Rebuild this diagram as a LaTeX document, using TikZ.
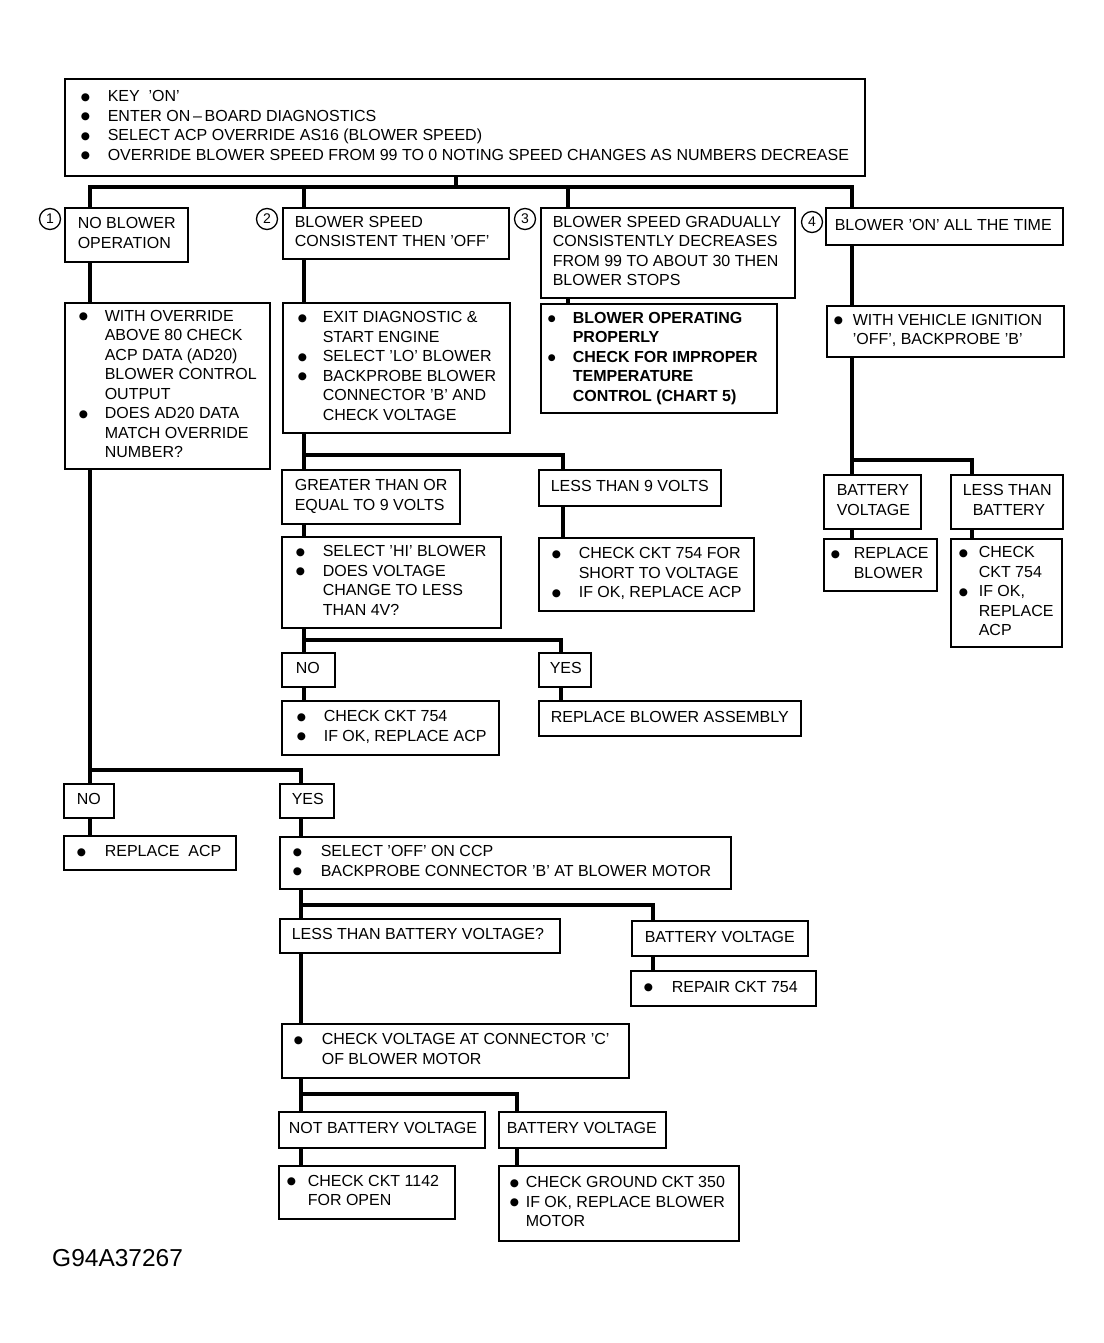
\documentclass[tikz,border=0pt]{standalone}
\usepackage{fontspec}
\setmainfont{Liberation Sans}
\newfontfamily\dejavu{DejaVu Sans}
\newlength\bw
\setlength\bw{27pt}
\newcommand\bu{\makebox[\bw][l]{\raisebox{1.5pt}{\dejavu\fontsize{10.5}{10.5}\selectfont ●}}}
\newcommand\bub{\makebox[\bw][l]{\raisebox{1.5pt}{\dejavu\fontsize{9}{9}\selectfont ●}}}
\newcommand\ii{\hspace*{\bw}}
\newcommand\bx[7][12]{\node[box,inner xsep=#1pt,minimum width=#5pt,minimum height=#6pt] (#2) at (#3,#4) {\makebox[\dimexpr#5pt-#1pt-#1pt\relax][l]{\begin{tabular}{@{}l@{}}#7\end{tabular}}};}
\tikzset{
  box/.style={draw, line width=1.6pt, anchor=north west, inner ysep=1pt,
    font=\fontsize{16}{19.5}\selectfont},
  conn/.style={line width=3.6pt, line join=miter},
  num/.style={circle, draw, line width=1.3pt, minimum size=21pt, inner sep=0pt,
    font=\fontsize{14}{14}\selectfont}
}
\begin{document}
\begin{tikzpicture}[x=1pt,y=-1pt]
\fill[white] (0,0) rectangle (1103,1343);
\useasboundingbox (0,0) rectangle (1103,1343);

% ---- boxes ----
\setlength\bw{27pt}
\bx[16]{top}{64}{78}{800}{97}{\bu KEY\ \ 'ON'\\ \bu ENTER ON\,--\,BOARD DIAGNOSTICS\\ \bu SELECT ACP OVERRIDE AS16 (BLOWER SPEED)\\ \bu OVERRIDE BLOWER SPEED FROM 99 TO 0 NOTING SPEED CHANGES AS NUMBERS DECREASE}

\bx[13]{b1}{64}{207}{123}{54}{NO BLOWER\\ OPERATION}
\bx[12]{b2}{282}{207}{226}{51}{BLOWER SPEED\\ CONSISTENT THEN 'OFF'}
\bx[12]{b3}{540}{207}{254}{90}{BLOWER SPEED GRADUALLY\\ CONSISTENTLY DECREASES\\ FROM 99 TO ABOUT 30 THEN\\ BLOWER STOPS}
\bx[9]{b4}{825}{207}{237}{37}{BLOWER 'ON' ALL THE TIME}

\node[num] (c1) at (50,219) {1};
\node[num] (c2) at (267,219) {2};
\node[num] (c3) at (525,219) {3};
\node[num] (c4) at (812,222) {4};

\setlength\bw{26pt}
\bx[14]{b1a}{64}{302}{205}{166}{\bu WITH OVERRIDE\\ \ii ABOVE 80 CHECK\\ \ii ACP DATA (AD20)\\ \ii BLOWER CONTROL\\ \ii OUTPUT\\ \bu DOES AD20 DATA\\ \ii MATCH OVERRIDE\\ \ii NUMBER?}
\setlength\bw{25pt}
\bx[15]{b2a}{282}{302}{227}{130}{\bu EXIT DIAGNOSTIC \&\\ \ii START ENGINE\\ \bu SELECT 'LO' BLOWER\\ \bu BACKPROBE BLOWER\\ \ii CONNECTOR 'B' AND\\ \ii CHECK VOLTAGE}
\setlength\bw{25pt}
\bx[7]{b3a}{540}{303}{236}{109}{\bfseries\bub BLOWER OPERATING\\ \bfseries\ii PROPERLY\\ \bfseries\bub CHECK FOR IMPROPER\\ \bfseries\ii TEMPERATURE\\ \bfseries\ii CONTROL (CHART 5)}
\setlength\bw{19pt}
\bx[7]{b4a}{826}{305}{237}{51}{\bu WITH VEHICLE IGNITION\\ \ii 'OFF', BACKPROBE 'B'}

\bx[13]{b4b}{823}{474}{97}{54}{BATTERY\\ VOLTAGE}
\bx[12]{b4c}{950}{474}{112}{54}{LESS THAN\\ \hspace*{10pt}BATTERY}
\setlength\bw{23pt}
\bx[7]{b4d}{823}{538}{113}{52}{\bu REPLACE\\ \ii BLOWER}
\setlength\bw{20pt}
\bx[8]{b4e}{950}{538}{111}{108}{\bu CHECK\\ \ii CKT 754\\ \bu IF OK,\\ \ii REPLACE\\ \ii ACP}

\bx[13]{b2b}{281}{469}{178}{54}{GREATER THAN OR\\ EQUAL TO 9 VOLTS}
\bx[12]{b2c}{538}{469}{182}{36}{LESS THAN 9 VOLTS}
\setlength\bw{27pt}
\bx[14]{b2d}{281}{536}{219}{91}{\bu SELECT 'HI' BLOWER\\ \bu DOES VOLTAGE\\ \ii CHANGE TO LESS\\ \ii THAN 4V?}
\bx[13]{b2e}{538}{537}{215}{73}{\bu CHECK CKT 754 FOR\\ \ii SHORT TO VOLTAGE\\ \bu IF OK, REPLACE ACP}
\bx[14]{b2f}{281}{652}{53}{34}{NO}
\bx[11]{b2g}{538}{652}{52}{34}{YES}
\bx[15]{b2h}{281}{700}{217}{54}{\bu CHECK CKT 754\\ \bu IF OK, REPLACE ACP}
\bx[12]{b2i}{538}{700}{262}{35}{REPLACE BLOWER ASSEMBLY}

\bx[13]{b1b}{63}{783}{50}{34}{NO}
\bx[12]{b1c}{279}{783}{54}{34}{YES}
\setlength\bw{28pt}
\bx[13]{b1d}{63}{835}{172}{34}{\bu REPLACE\ \ ACP}
\bx[13]{b1e}{279}{836}{451}{52}{\bu SELECT 'OFF' ON CCP\\ \bu BACKPROBE CONNECTOR 'B' AT BLOWER MOTOR}
\bx[12]{b1f}{279}{918}{280}{34}{LESS THAN BATTERY VOLTAGE?}
\bx[13]{b1g}{631}{920}{176}{35}{BATTERY VOLTAGE}
\bx[13]{b1h}{630}{970}{185}{35}{\bu REPAIR CKT 754}
\bx[12]{b1i}{281}{1023}{347}{54}{\bu CHECK VOLTAGE AT CONNECTOR 'C'\\ \ii OF BLOWER MOTOR}
\bx[10]{b1j}{278}{1111}{206}{36}{NOT BATTERY VOLTAGE}
\bx[8]{b1k}{498}{1111}{167}{36}{BATTERY VOLTAGE}
\setlength\bw{21pt}
\bx[8]{b1l}{278}{1165}{176}{53}{\bu CHECK CKT 1142\\ \ii FOR OPEN}
\setlength\bw{16pt}
\bx[11]{b1m}{498}{1165}{240}{75}{\bu CHECK GROUND CKT 350\\ \bu IF OK, REPLACE BLOWER\\ \ii MOTOR}

\node[anchor=west, inner sep=0pt, font=\fontsize{24.5}{25}\selectfont] (lbl) at (52,1258) {G94A37267};

% ---- junctions and connector lines ----
\coordinate (j0) at (456,187);
\coordinate (L1) at (90,0);
\coordinate (L2) at (304,0);
\coordinate (L3) at (568,0);
\coordinate (L4) at (852,0);
\coordinate (L5) at (301,0);
\coordinate (L6) at (653,0);
\coordinate (L7) at (517,0);
\coordinate (L8) at (563,0);
\coordinate (L9) at (561,0);
\coordinate (L10) at (972,0);
\coordinate (j1) at (90,770);
\coordinate (j2) at (304,455);
\coordinate (j3) at (304,640);
\coordinate (j4) at (852,460);
\coordinate (j5) at (301,905);
\coordinate (j6) at (301,1094);

\draw[conn] (top.south -| j0) -- (j0);
\draw[conn] (b1.north -| L1) -- (L1 |- j0) -- (L4 |- j0) -- (b4.north -| L4);
\draw[conn] (b2.north -| L2) -- (L2 |- j0);
\draw[conn] (b3.north -| L3) -- (L3 |- j0);

\draw[conn] (b1.south -| L1) -- (b1a.north -| L1);
\draw[conn] (b1a.south -| L1) -- (b1b.north -| L1);
\draw[conn] (j1) -| (b1c.north -| L5);
\draw[conn] (b1b.south -| L1) -- (b1d.north -| L1);
\draw[conn] (b1c.south -| L5) -- (b1e.north -| L5);
\draw[conn] (b1e.south -| L5) -- (b1f.north -| L5);
\draw[conn] (j5) -| (b1g.north -| L6);
\draw[conn] (b1g.south -| L6) -- (b1h.north -| L6);
\draw[conn] (b1f.south -| L5) -- (b1i.north -| L5);
\draw[conn] (b1i.south -| L5) -- (b1j.north -| L5);
\draw[conn] (j6) -| (b1k.north -| L7);
\draw[conn] (b1j.south -| L5) -- (b1l.north -| L5);
\draw[conn] (b1k.south -| L7) -- (b1m.north -| L7);

\draw[conn] (b2.south -| L2) -- (b2a.north -| L2);
\draw[conn] (b2a.south -| L2) -- (b2b.north -| L2);
\draw[conn] (j2) -| (b2c.north -| L8);
\draw[conn] (b2c.south -| L8) -- (b2e.north -| L8);
\draw[conn] (b2b.south -| L2) -- (b2d.north -| L2);
\draw[conn] (b2d.south -| L2) -- (b2f.north -| L2);
\draw[conn] (j3) -| (b2g.north -| L9);
\draw[conn] (b2f.south -| L2) -- (b2h.north -| L2);
\draw[conn] (b2g.south -| L9) -- (b2i.north -| L9);

\draw[conn] (b3.south -| L3) -- (b3a.north -| L3);

\draw[conn] (b4.south -| L4) -- (b4a.north -| L4);
\draw[conn] (b4a.south -| L4) -- (b4b.north -| L4);
\draw[conn] (j4) -| (b4c.north -| L10);
\draw[conn] (b4b.south -| L4) -- (b4d.north -| L4);
\draw[conn] (b4c.south -| L10) -- (b4e.north -| L10);
\end{tikzpicture}
\end{document}
